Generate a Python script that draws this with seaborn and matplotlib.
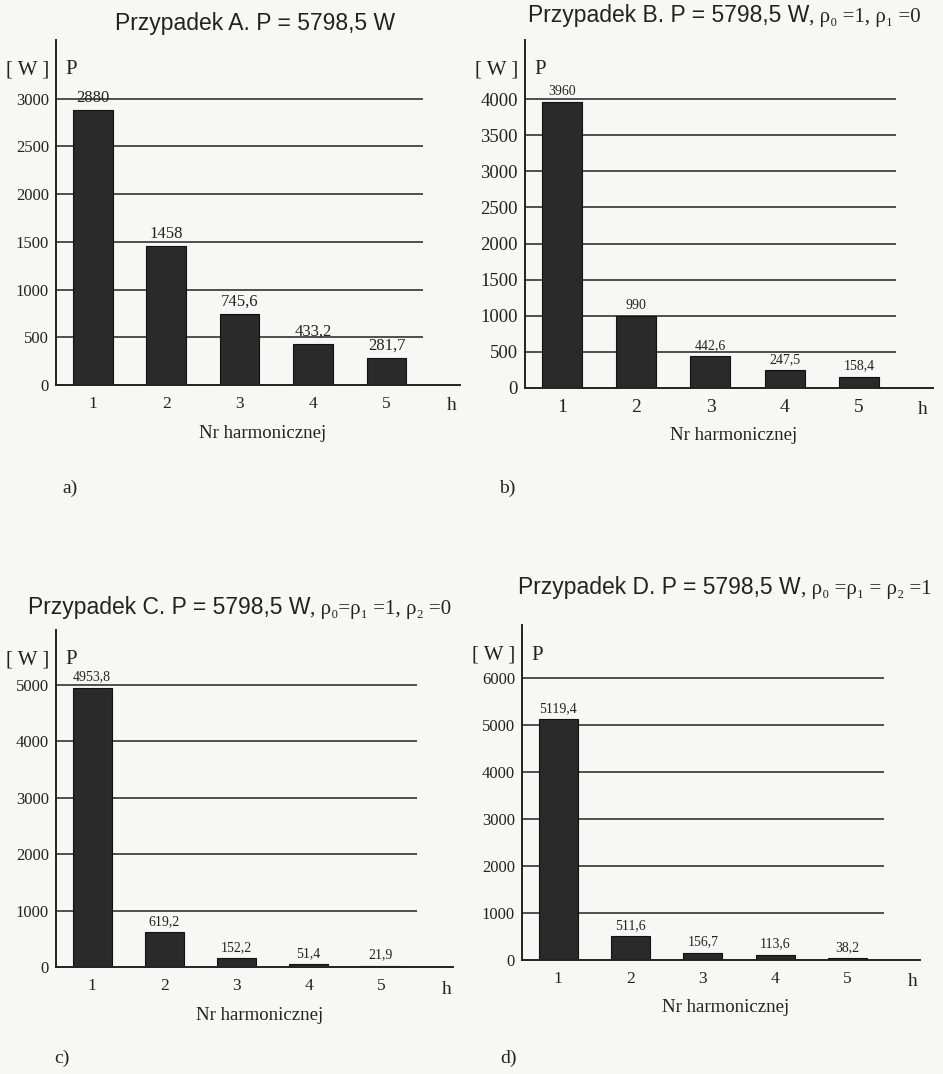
"""
Four bar charts of active power per harmonic (cases A-D), laid out as a scanned page.
"""
import numpy as np
import pandas as pd
import matplotlib
matplotlib.use("Agg")
import matplotlib.pyplot as plt
import seaborn as sns

# data
harmonics = ["1", "2", "3", "4", "5"]
power_a = [2880, 1458, 745.6, 433.2, 281.7]
power_b = [3960, 990, 442.6, 247.5, 158.4]
power_c = [4953.8, 619.2, 152.2, 51.4, 21.9]
power_d = [5119.4, 511.6, 156.7, 113.6, 38.2]

labels_a = ["2880", "1458", "745,6", "433,2", "281,7"]
labels_b = ["3960", "990", "442,6", "247,5", "158,4"]
labels_c = ["4953,8", "619,2", "152,2", "51,4", "21,9"]
labels_d = ["5119,4", "511,6", "156,7", "113,6", "38,2"]

yticks_a = [0, 500, 1000, 1500, 2000, 2500, 3000]
yticks_b = [0, 500, 1000, 1500, 2000, 2500, 3000, 3500, 4000]
yticks_c = [0, 1000, 2000, 3000, 4000, 5000]
yticks_d = [0, 1000, 2000, 3000, 4000, 5000, 6000]

title_main = "Przypadek {}. P = 5798,5 W"
title_tail_b = ", ρ₀ =1, ρ₁ =0"
title_tail_c = ", ρ₀=ρ₁ =1, ρ₂ =0"
title_tail_d = ", ρ₀ =ρ₁ = ρ₂ =1"

W, H = 943, 1074
INK = "#222222"
BAR = "#2a2a2a"
SERIF = ["Liberation Serif", "DejaVu Serif"]
SANS = ["Liberation Sans", "DejaVu Sans"]

sns.set_style("white")
plt.rcParams["font.family"] = SERIF

fig = plt.figure(figsize=(W / 100, H / 100), dpi=100, facecolor="#f7f7f6")


def px_axes(left, right, bottom, top):
    return fig.add_axes([left / W, 1 - bottom / H, (right - left) / W, (bottom - top) / H])


# box (left, right, bottom, top) in pixels, values, labels, yticks, ylim top,
# tick font, value font, title pos, title tail, tag, tag pos, case, "h" pos
panels = [
    ((56, 460, 385, 40), power_a, labels_a, yticks_a, 3616, 12, 12,
     (115, 30), None, "a)", (70, 488), "A", (452, 405)),
    ((525, 933, 388, 40), power_b, labels_b, yticks_b, 4817, 13.5, 10,
     (528, 22), title_tail_b, "b)", (507, 488), "B", (923, 409)),
    ((56, 453, 967, 630), power_c, labels_c, yticks_c, 5975, 12, 10,
     (28, 614), title_tail_c, "c)", (62, 1058), "C", (447, 990)),
    ((522, 920, 960, 625), power_d, labels_d, yticks_d, 7128, 12, 10,
     (518, 594), title_tail_d, "d)", (508, 1058), "D", (913, 981)),
]

title_artists = []
for (box, vals, labs, yt, ytop, tfs, vfs, txy, tail, tag, tagxy, case, hxy) in panels:
    ax = px_axes(*box)
    ax.set_facecolor("none")
    df = pd.DataFrame({"h": harmonics, "P": vals})
    # horizontal grid behind the bars, stopping half a bar past the last one
    ax.hlines(yt[1:], -0.5, 4.5, color=INK, lw=1.1, zorder=0)
    sns.barplot(data=df, x="h", y="P", color=BAR, width=0.54, saturation=1,
                edgecolor="#111111", linewidth=0.8, ax=ax, zorder=2)
    ax.bar_label(ax.containers[0], labels=labs, padding=3, fontsize=vfs, color=INK)
    ax.set_xlim(-0.5, 5.0)
    ax.set_ylim(0, ytop)
    ax.set_yticks(yt)
    ax.set_yticklabels([str(v) for v in yt], fontsize=tfs, color=INK)
    ax.set_xticks(range(5))
    ax.set_xticklabels(harmonics, fontsize=tfs + 0.5, color=INK)
    ax.set_xticks(np.arange(0.5, 5.0, 1.0), minor=True)
    ax.tick_params(axis="x", which="major", length=0, pad=8)
    ax.tick_params(axis="x", which="minor", length=4, direction="inout",
                   width=0.8, color=INK)
    ax.tick_params(axis="y", length=4, direction="inout", width=0.8,
                   color=INK, pad=3)
    ax.set_xlabel("")
    ax.set_ylabel("")
    for s in ["top", "right"]:
        ax.spines[s].set_visible(False)
    for s in ["left", "bottom"]:
        ax.spines[s].set_color(INK)
        ax.spines[s].set_linewidth(1.4)

    left, right, bottom, top = box
    fig.text((left - 28) / W, 1 - (top + 30) / H, "[ W ]", fontsize=15,
             color=INK, ha="center", va="center")
    fig.text((left + 15) / W, 1 - (top + 30) / H, "P", fontsize=15,
             color=INK, ha="center", va="center")
    fig.text(hxy[0] / W, 1 - hxy[1] / H, "h", fontsize=14, color=INK,
             ha="center", va="center")
    fig.text((left + right) / 2 / W + 0.005, 1 - (bottom + 48) / H,
             "Nr harmonicznej", fontsize=13.5, color=INK, ha="center", va="center")
    fig.text(tagxy[0] / W, 1 - tagxy[1] / H, tag, fontsize=14, color=INK,
             ha="center", va="center")
    t = fig.text(txy[0] / W, 1 - txy[1] / H, title_main.format(case),
                 fontsize=16.5, family=SANS, color=INK, ha="left", va="baseline")
    title_artists.append((t, tail))

# place the serif tail of each title right after its sans part
fig.canvas.draw()
renderer = fig.canvas.get_renderer()
for t, tail in title_artists:
    if not tail:
        continue
    bb = t.get_window_extent(renderer)
    x0 = bb.x1 / fig.bbox.width
    y0 = t.get_position()[1]
    fig.text(x0, y0, tail, fontsize=15, family=SERIF, color=INK,
             ha="left", va="baseline")

fig.savefig("out.png", dpi=100, facecolor=fig.get_facecolor())
